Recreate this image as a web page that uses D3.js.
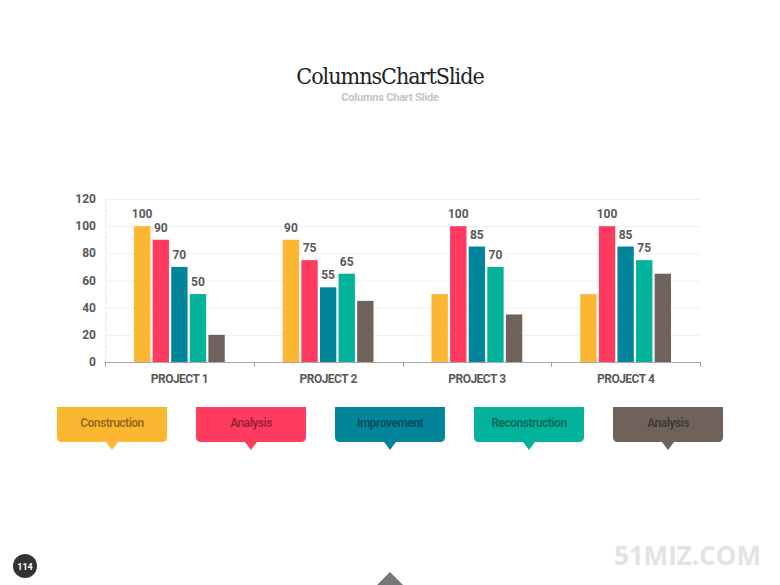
<!DOCTYPE html>
<html>
<head>
<meta charset="utf-8">
<script src="https://cdn.jsdelivr.net/npm/d3@7"></script>
<style>
	body { margin: 0; background: #fff; }
	svg { display: block; font-family: Roboto, "Liberation Sans", sans-serif; }
</style>
</head>
<body>
<div id="chart"></div>
<script>
(function() {
	"use strict";

	var projects = ['PROJECT 1', 'PROJECT 2', 'PROJECT 3', 'PROJECT 4'];
	var seriesNames = ['Construction', 'Analysis', 'Improvement', 'Reconstruction', 'Analysis'];
	var seriesColors = ['#fbb731', '#ff3b60', '#02849a', '#02b29a', '#6f625a'];
	// values per project, one per series
	var values = [
		[100, 90, 70, 50, 20],
		[90, 75, 55, 65, 45],
		[50, 100, 85, 70, 35],
		[50, 100, 85, 75, 65]
	];
	// which bars carry a value label
	var showLabel = [
		[true, true, true, true, false],
		[true, true, true, true, false],
		[false, true, true, true, false],
		[false, true, true, true, false]
	];
	var yTicks = [0, 20, 40, 60, 80, 100, 120];

	var width = 780, height = 585;
	var plot = { left: 105, right: 700, top: 199, bottom: 362 };

	var svg = d3.select('#chart')
		.append('svg')
		.attr('width', width)
		.attr('height', height);

	var x = d3.scaleBand()
		.domain(projects)
		.range([plot.left, plot.right]);

	var xInner = d3.scaleBand()
		.domain(d3.range(seriesNames.length))
		.range([29, x.bandwidth() - 29])
		.paddingInner(0.12);

	var y = d3.scaleLinear()
		.domain([0, 120])
		.range([plot.bottom, plot.top]);

	renderTitle(svg);
	renderGrid(svg, y);
	renderBars(svg, x, xInner, y);
	renderAxes(svg, x, y);
	renderLegend(svg);
	renderFooter(svg);

	function renderTitle(svg) {
		svg.append('text')
			.attr('x', 390)
			.attr('y', 84)
			.attr('text-anchor', 'middle')
			.style('font-family', '"DejaVu Serif Condensed", "Liberation Serif", serif')
			.style('font-size', '23px')
			.style('letter-spacing', '-1px')
			.attr('fill', '#222')
			.text('ColumnsChartSlide');

		svg.append('text')
			.attr('x', 390)
			.attr('y', 101)
			.attr('text-anchor', 'middle')
			.style('font-size', '11px')
			.style('font-weight', 'bold')
			.style('letter-spacing', '-0.2px')
			.attr('fill', '#c4c4c4')
			.text('Columns Chart Slide');
	}

	function renderGrid(svg, y) {
		svg.append('g')
			.selectAll('line')
			.data(yTicks.slice(1))
			.enter()
			.append('line')
			.attr('x1', plot.left)
			.attr('x2', plot.right)
			.attr('y1', function (d) { return y(d) + 0.5; })
			.attr('y2', function (d) { return y(d) + 0.5; })
			.attr('stroke', '#efefef');

		// faint left axis with minor ticks
		svg.append('line')
			.attr('x1', plot.left + 0.5)
			.attr('x2', plot.left + 0.5)
			.attr('y1', plot.top)
			.attr('y2', plot.bottom)
			.attr('stroke', '#eee');

		svg.append('g')
			.selectAll('line')
			.data(d3.range(0, 121, 4))
			.enter()
			.append('line')
			.attr('x1', plot.left)
			.attr('x2', plot.left + 3)
			.attr('y1', function (d) { return Math.round(y(d)) + 0.5; })
			.attr('y2', function (d) { return Math.round(y(d)) + 0.5; })
			.attr('stroke', '#eee');
	}

	function renderBars(svg, x, xInner, y) {
		var groups = svg.append('g')
			.selectAll('g')
			.data(projects)
			.enter()
			.append('g')
			.attr('transform', function (p) { return 'translate(' + x(p) + ',0)'; });

		groups.selectAll('rect')
			.data(function (p, i) { return values[i].map(function (v, j) { return { v: v, j: j }; }); })
			.enter()
			.append('rect')
			.attr('x', function (d) { return xInner(d.j); })
			.attr('width', xInner.bandwidth())
			.attr('y', function (d) { return y(d.v); })
			.attr('height', function (d) { return y(0) - y(d.v); })
			.attr('fill', function (d) { return seriesColors[d.j]; });

		groups.selectAll('text')
			.data(function (p, i) {
				return values[i].map(function (v, j) { return { v: v, j: j, show: showLabel[i][j] }; })
					.filter(function (d) { return d.show; });
			})
			.enter()
			.append('text')
			.attr('x', function (d) { return xInner(d.j) + xInner.bandwidth() / 2; })
			.attr('y', function (d) { return y(d.v) - 8; })
			.attr('text-anchor', 'middle')
			.style('font-size', '12px')
			.style('font-weight', 'bold')
			.attr('fill', '#595959')
			.text(function (d) { return d.v; });
	}

	function renderAxes(svg, x, y) {
		svg.append('line')
			.attr('x1', plot.left)
			.attr('x2', plot.right)
			.attr('y1', plot.bottom + 0.5)
			.attr('y2', plot.bottom + 0.5)
			.attr('stroke', '#a6a6a6');

		var bounds = projects.map(function (p) { return x(p); }).concat([plot.right]);
		svg.append('g')
			.selectAll('line')
			.data(bounds)
			.enter()
			.append('line')
			.attr('x1', function (d) { return Math.round(d) + 0.5; })
			.attr('x2', function (d) { return Math.round(d) + 0.5; })
			.attr('y1', plot.bottom)
			.attr('y2', plot.bottom + 5)
			.attr('stroke', '#a6a6a6');

		svg.append('g')
			.selectAll('text')
			.data(projects)
			.enter()
			.append('text')
			.attr('x', function (p) { return x(p) + x.bandwidth() / 2; })
			.attr('y', plot.bottom + 21)
			.attr('text-anchor', 'middle')
			.style('font-size', '12px')
			.style('font-weight', 'bold')
			.style('letter-spacing', '-0.5px')
			.attr('fill', '#595959')
			.text(function (p) { return p; });

		svg.append('g')
			.selectAll('text')
			.data(yTicks)
			.enter()
			.append('text')
			.attr('x', plot.left - 9)
			.attr('y', function (d) { return y(d) + 4; })
			.attr('text-anchor', 'end')
			.style('font-size', '12px')
			.style('font-weight', 'bold')
			.attr('fill', '#595959')
			.text(function (d) { return d; });
	}

	function renderLegend(svg) {
		var boxW = 110, boxH = 35, r = 5, top = 407;
		var lx = d3.scalePoint()
			.domain(d3.range(seriesNames.length))
			.range([57, 613]);

		var boxes = svg.append('g')
			.selectAll('g')
			.data(seriesNames)
			.enter()
			.append('g')
			.attr('transform', function (d, i) { return 'translate(' + lx(i) + ',' + top + ')'; });

		boxes.append('path')
			.attr('d', function () {
				var mid = boxW / 2;
				return 'M0,0 H' + boxW + ' V' + (boxH - r) +
					' Q' + boxW + ',' + boxH + ' ' + (boxW - r) + ',' + boxH +
					' H' + (mid + 6) + ' L' + mid + ',' + (boxH + 8) + ' L' + (mid - 6) + ',' + boxH +
					' H' + r + ' Q0,' + boxH + ' 0,' + (boxH - r) + ' Z';
			})
			.attr('fill', function (d, i) { return seriesColors[i]; });

		boxes.append('text')
			.attr('x', boxW / 2)
			.attr('y', 20)
			.attr('text-anchor', 'middle')
			.style('font-size', '12px')
			.style('font-weight', 'bold')
			.style('letter-spacing', '-0.5px')
			.attr('fill', '#000')
			.attr('fill-opacity', 0.42)
			.text(function (d) { return d; });
	}

	function renderFooter(svg) {
		svg.append('circle')
			.attr('cx', 25)
			.attr('cy', 566)
			.attr('r', 12)
			.attr('fill', '#333');

		svg.append('text')
			.attr('x', 25)
			.attr('y', 569.5)
			.attr('text-anchor', 'middle')
			.style('font-size', '9px')
			.style('font-weight', 'bold')
			.attr('fill', '#fff')
			.text('114');

		svg.append('text')
			.attr('x', 761)
			.attr('y', 565)
			.attr('text-anchor', 'end')
			.style('font-family', '"Open Sans", sans-serif')
			.style('font-size', '26px')
			.style('font-weight', 'bold')
			.attr('fill', '#e3e3e3')
			.text('51MIZ.COM');

		svg.append('path')
			.attr('d', 'M377,585 L390,572 L403,585 Z')
			.attr('fill', '#777');
	}
}());
</script>
</body>
</html>
